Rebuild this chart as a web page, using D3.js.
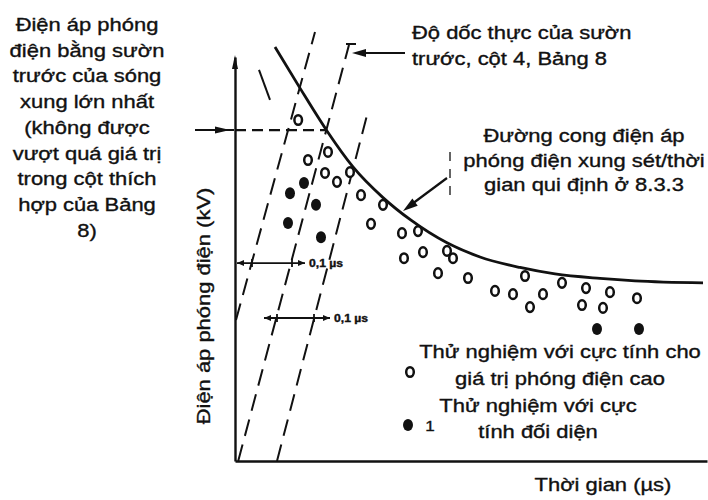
<!DOCTYPE html>
<html><head><meta charset="utf-8">
<script src="https://cdn.jsdelivr.net/npm/d3@7"></script>
<style>
body{margin:0;background:#fff}
text{font-family:"Liberation Sans",Arial,Helvetica,sans-serif;fill:#111;stroke:#111;stroke-width:0.35px}
</style>
</head><body>
<svg id="chart" width="708" height="500"></svg>
<script>
// ---- data (time in µs, voltage in % of scale) ----
const highPolarityTests = [
  [0.158,84.4],[0.2325,76.5],[0.1825,74.5],[0.225,71.3],[0.255,69.1],[0.2875,71.5],
  [0.315,65.8],[0.37,63.4],[0.34,58.7],[0.4175,56.4],[0.4575,56.9],[0.4225,50.2],
  [0.47,51.7],[0.53,52.0],[0.545,50.2],[0.5075,46.5],[0.5825,45.3],[0.65,42.1],
  [0.695,41.3],[0.7375,38.1],[0.77,41.3],[0.725,45.8],[0.8175,44.1],[0.8775,42.8],
  [0.8675,38.6],[0.92,37.9],[0.9375,41.8],[1.005,40.3]
];
const oppositePolarityTests = [
  [0.1725,68.8],[0.1375,66.3],[0.2025,63.4],[0.1325,58.9],[0.215,55.4],[0.905,32.7],[1.01,32.7]
];
const voltTimeCurve = [
  [0.1,102.5],[0.1625,92.3],[0.23,81.7],[0.295,72.8],[0.37,65.2],[0.44,59.6],[0.53,54.0],
  [0.6125,50.5],[0.7125,47.9],[0.8,46.3],[0.9125,45.2],[1.0,44.6],[1.17,44.1]
];
const frontLines = [
  [[0.0025,34.9],[0.2,106.2]],
  [[0.008,0],[0.285,103]],
  [[0.105,0],[0.33,85.6]]
];
const maxFrontLevel = 81.9;      // horizontal dashed reference
const maxFrontTime = 0.23;
const spanArrows = [ {v:49.0, t0:0.005, t1:0.175, ticks:[0.0425,0.1425], label:"0,1 µs"},
                     {v:35.4, t0:0.0725, t1:0.2375, ticks:[0.105,0.1975], label:"0,1 µs"} ];
const shortMark = [[0.06,96.8],[0.0875,89.4]];

const leftNote = ["Điện áp phóng","điện bằng sườn","trước của sóng","xung lớn nhất","(không được","vượt quá giá trị","trong cột thích","hợp của Bảng","8)"];
const topNote = ["Độ dốc thực của sườn","trước, cột 4, Bảng 8"];
const curveNote = ["Đường cong điện áp","phóng điện xung sét/thời","gian qui định ở 8.3.3"];
const legendOpen = ["Thử nghiệm với cực tính cho","giá trị phóng điện cao"];
const legendFilled = ["Thử nghiệm với cực","tính đối diện"];
const yTitle = "Điện áp phóng điện (kV)";
const xTitle = "Thời gian (µs)";

// ---- scales ----
const svg = d3.select("#chart");
const x = d3.scaleLinear().domain([0,1.18]).range([235,707]);
const y = d3.scaleLinear().domain([0,100]).range([461,57]);
const SX = 1.22;

function txt(str, px, py, anchor, size, rot){
  svg.append("text")
    .attr("transform", `translate(${px},${py})${rot?" rotate(-90)":""} scale(${SX},1)`)
    .attr("text-anchor", anchor)
    .style("font-size", size+"px")
    .text(str);
}
function head(px, py, dx, dy, len, hw){
  const n = Math.hypot(dx,dy), ux=dx/n, uy=dy/n;
  const bx = px-ux*len, by = py-uy*len;
  svg.append("path").attr("d",`M${px},${py}L${bx-uy*hw},${by+ux*hw}L${bx+uy*hw},${by-ux*hw}Z`).attr("fill","#111");
}

// ---- axes ----
svg.append("g").attr("transform",`translate(235,0)`).call(d3.axisLeft(y).tickValues([]).tickSizeOuter(0));
svg.append("g").attr("transform",`translate(0,461)`).call(d3.axisBottom(x).tickValues([]).tickSizeOuter(0));
svg.selectAll(".domain").attr("stroke","#111").attr("stroke-width",2.4);
head(235, 55, 0, -1, 14, 3);

// ---- front lines (dashed) ----
const line = d3.line().x(d=>x(d[0])).y(d=>y(d[1]));
frontLines.forEach(l=>{
  svg.append("path").attr("d",line(l)).attr("fill","none").attr("stroke","#111")
    .attr("stroke-width",2).attr("stroke-dasharray","17,9");
});
svg.append("path").attr("d",line(shortMark)).attr("stroke","#111").attr("stroke-width",2);

// horizontal reference to curve
svg.append("path").attr("d",line([[0,maxFrontLevel],[maxFrontTime,maxFrontLevel]]))
  .attr("stroke","#111").attr("stroke-width",2.2).attr("stroke-dasharray","11,6");
svg.append("line").attr("x1",195).attr("x2",234).attr("y1",y(maxFrontLevel)).attr("y2",y(maxFrontLevel)).attr("stroke","#111").attr("stroke-width",2);
head(230, y(maxFrontLevel), 1, 0, 15, 3.5);

// ---- volt-time curve ----
svg.append("path").attr("d", d3.line().x(d=>x(d[0])).y(d=>y(d[1])).curve(d3.curveMonotoneX)(voltTimeCurve))
  .attr("fill","none").attr("stroke","#111").attr("stroke-width",2.8);

// ---- span arrows 0,1 µs ----
spanArrows.forEach((a,i)=>{
  const yy = y(a.v);
  svg.append("line").attr("x1",x(a.t0)).attr("x2",x(a.t1)).attr("y1",yy).attr("y2",yy).attr("stroke","#111").attr("stroke-width",1.8);
  head(x(a.t0), yy, -1, 0, 7, 3);
  head(x(a.t1), yy, 1, 0, 7, 3);
  a.ticks.forEach(t=>svg.append("line").attr("x1",x(t)).attr("x2",x(t)).attr("y1",yy-4).attr("y2",yy+4).attr("stroke","#111").attr("stroke-width",1.8));
  svg.append("text").attr("transform",`translate(${x(a.t1)+4},${yy+4}) scale(${SX},1)`)
    .style("font-size","10px").style("font-weight","bold").text(a.label);
});

// ---- points ----
svg.selectAll(".op").data(highPolarityTests).join("ellipse")
  .attr("cx",d=>x(d[0])).attr("cy",d=>y(d[1])).attr("rx",3.8).attr("ry",4.8)
  .attr("fill","#fff").attr("stroke","#111").attr("stroke-width",2.5);
svg.selectAll(".fp").data(oppositePolarityTests).join("ellipse")
  .attr("cx",d=>x(d[0])).attr("cy",d=>y(d[1])).attr("rx",5).attr("ry",6).attr("fill","#111");

// ---- annotation arrows ----
svg.append("line").attr("x1",405).attr("x2",360).attr("y1",53).attr("y2",53).attr("stroke","#111").attr("stroke-width",2.2);
head(352, 53, -1, 0, 14, 4);
svg.append("line").attr("x1",346).attr("x2",356).attr("y1",44).attr("y2",44).attr("stroke","#111").attr("stroke-width",2);
svg.append("line").attr("x1",447).attr("x2",412).attr("y1",178).attr("y2",204).attr("stroke","#111").attr("stroke-width",2.2);
head(403, 211, -35, 26, 15, 4.5);
svg.append("line").attr("x1",450).attr("x2",450).attr("y1",152).attr("y2",202).attr("stroke","#111").attr("stroke-width",1.3).attr("stroke-dasharray","9,8");

// ---- texts ----
leftNote.forEach((s,i)=>txt(s, 87, 31+i*25.7, "middle", 18));
topNote.forEach((s,i)=>txt(s, 412, 39+i*26, "start", 18));
curveNote.forEach((s,i)=>txt(s, 584, 142+i*24.5, "middle", 18));
legendOpen.forEach((s,i)=>txt(s, 560, 358+i*27, "middle", 18));
legendFilled.forEach((s,i)=>txt(s, 538, 412+i*26, "middle", 18));
txt(yTitle, 210, 306, "middle", 18, true);
txt(xTitle, 603, 491, "middle", 18);

// legend markers
svg.append("ellipse").attr("cx",410).attr("cy",372).attr("rx",3.8).attr("ry",4.8).attr("fill","#fff").attr("stroke","#111").attr("stroke-width",2.5);
svg.append("ellipse").attr("cx",408).attr("cy",425).attr("rx",5).attr("ry",6).attr("fill","#111");
txt("1", 430, 431, "middle", 14);
</script>
</body></html>
